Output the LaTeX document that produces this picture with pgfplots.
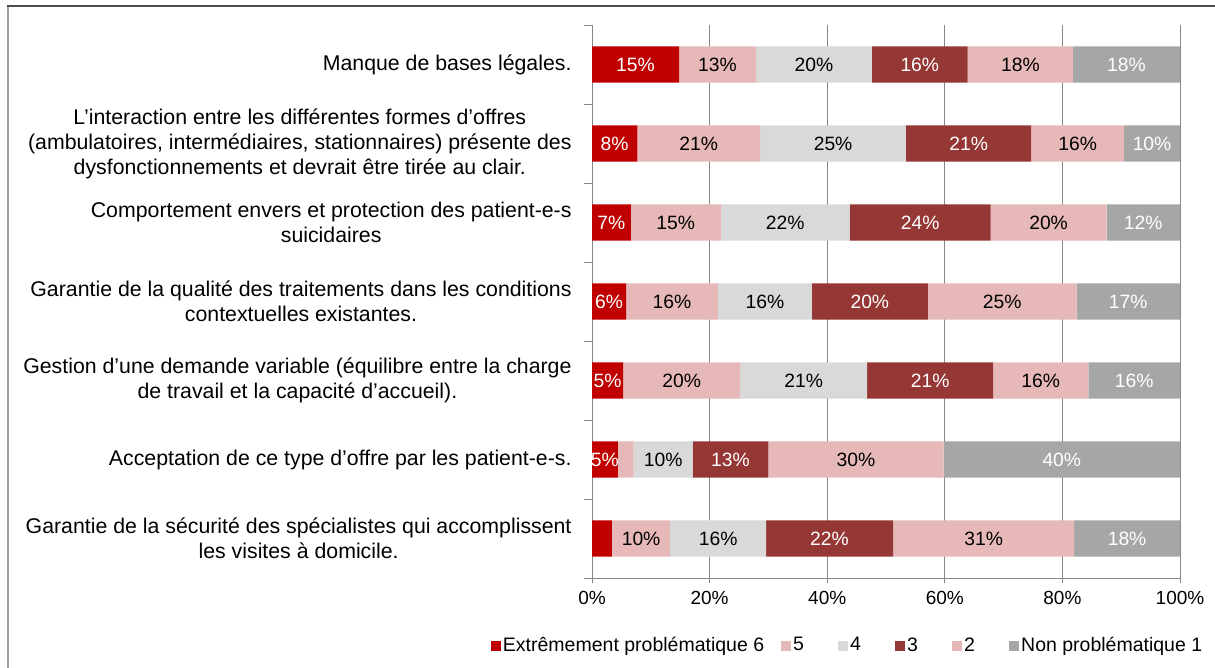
\documentclass[border=0pt]{standalone}
\usepackage{pgfplots}
\pgfplotsset{compat=1.18}
\usepackage{pgfplotstable}
\usepackage{fontspec}
\setmainfont{Liberation Sans}
\definecolor{cSix}{HTML}{C00000}
\definecolor{cFive}{HTML}{E6B9B8}
\definecolor{cFour}{HTML}{D9D9D9}
\definecolor{cThree}{HTML}{953735}
\definecolor{cTwo}{HTML}{E6B9B8}
\definecolor{cOne}{HTML}{A6A6A6}
\definecolor{axgray}{HTML}{868686}

\pgfplotstableread{
c s6 l6 s5 l5 s4 l4 s3 l3 s2 l2 s1 l1
0 14.8 15\% 13.1 13\% 19.7 20\% 16.3 16\% 17.9 18\% 18.2 18\%
1 7.7 8\% 20.9 21\% 24.8 25\% 21.3 21\% 15.8 16\% 9.5 10\%
2 6.6 7\% 15.3 15\% 21.9 22\% 24.0 24\% 19.7 20\% 12.5 12\%
3 5.8 6\% 15.6 16\% 16.0 16\% 19.7 20\% 25.3 25\% 17.6 17\%
4 5.3 5\% 19.9 20\% 21.6 21\% 21.4 21\% 16.2 16\% 15.6 16\%
5 4.4 5\% 2.7 {} 10.0 10\% 12.9 13\% 29.8 30\% 40.2 40\%
6 3.4 {} 9.9 10\% 16.3 16\% 21.6 22\% 30.8 31\% 18.0 18\%
}\datatable

\pgfplotsset{
  seg/.style n args={2}{
    fill=#1, draw=none,
    point meta=explicit symbolic,
    nodes near coords={\makebox[0pt][c]{\pgfplotspointmeta}},
    every node near coord/.append style={text=#2,
      font=\fontsize{19.3}{22}\selectfont, inner sep=0pt, outer sep=0pt},
  },
}

\begin{document}
\begin{tikzpicture}[x=1pt,y=1pt]
\useasboundingbox (0pt,0pt) rectangle (1215pt,668pt);
\draw[color=gray!75, line width=1.6pt] (8pt,0pt) -- (8pt,662pt);
\draw[color=black!70, line width=1.2pt] (7.2pt,662pt) -- (1215pt,662pt);
\begin{axis}[
  at={(592pt,90pt)}, anchor=south west,
  scale only axis, width=588pt, height=553pt,
  xbar stacked, bar width=0.46,
  xmin=0, xmax=100, ymin=-0.5, ymax=6.5,
  y dir=reverse,
  axis x line*=bottom, axis y line*=left,
  axis line style={axgray, line width=1pt},
  xtick={0,20,40,60,80,100},
  xticklabels={0\%,20\%,40\%,60\%,80\%,100\%},
  xmajorgrids, major grid style={axgray, line width=1pt},
  tick align=outside,
  x tick style={axgray, line width=1pt},
  major x tick style={/pgfplots/major tick length=5pt},
  ytick={0,1,2,3,4,5,6},
  major y tick style={draw=none},
  minor ytick={-0.5,0.5,1.5,2.5,3.5,4.5,5.5,6.5},
  minor y tick style={axgray, line width=1pt, /pgfplots/minor tick length=8pt},
  yticklabels={
    {Manque de bases légales.},
    {L’interaction entre les différentes formes d’offres\\(ambulatoires, intermédiaires, stationnaires) présente des\\dysfonctionnements et devrait être tirée au clair.},
    {Comportement envers et protection des patient-e-s\\suicidaires},
    {Garantie de la qualité des traitements dans les conditions\\contextuelles existantes.},
    {Gestion d’une demande variable (équilibre entre la charge\\de travail et la capacité d’accueil).},
    {Acceptation de ce type d’offre par les patient-e-s.},
    {Garantie de la sécurité des spécialistes qui accomplissent\\les visites à domicile.}
  },
  yticklabel style={align=center, font=\fontsize{21.3}{25}\selectfont, inner sep=0pt, anchor=east, xshift=-16pt},
  xticklabel style={font=\fontsize{19}{22}\selectfont, inner sep=0pt, anchor=center, yshift=-16pt},
  /pgf/number format/assume math mode=true,
  legend columns=6,
  legend style={at={(-0.1718,-0.1212)}, anchor=west, draw=none, inner sep=0pt, outer sep=0pt,
    font=\fontsize{19.5}{23}\selectfont,
    /tikz/every odd column/.append style={column sep=0pt},
    /tikz/every even column/.append style={column sep=15pt}},
  legend cell align=left,
  legend image code/.code={\fill[#1] (0pt,-5.5pt) rectangle (10pt,4.5pt);},
]
\addplot[seg={cSix}{white}] table[x=s6, y=c, meta=l6] {\datatable};
\addplot[seg={cFive}{black}] table[x=s5, y=c, meta=l5] {\datatable};
\addplot[seg={cFour}{black}] table[x=s4, y=c, meta=l4] {\datatable};
\addplot[seg={cThree}{white}] table[x=s3, y=c, meta=l3] {\datatable};
\addplot[seg={cTwo}{black}] table[x=s2, y=c, meta=l2] {\datatable};
\addplot[seg={cOne}{white}] table[x=s1, y=c, meta=l1] {\datatable};
\legend{Extrêmement problématique 6,\makebox[28pt][l]{5},\makebox[28pt][l]{4},\makebox[28pt][l]{3},\makebox[28pt][l]{2},Non problématique 1}
\end{axis}
\end{tikzpicture}
\end{document}
